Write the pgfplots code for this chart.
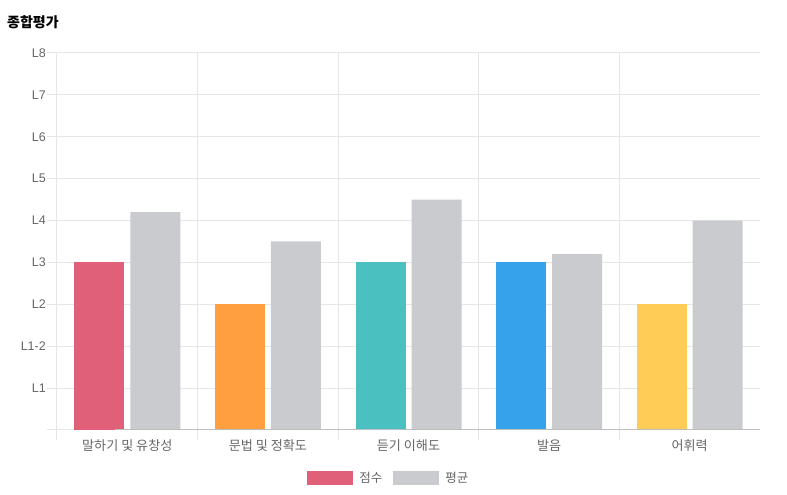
\documentclass[border=0pt]{standalone}
\usepackage{fontspec}
\setmainfont{Noto Sans CJK KR}
\newfontfamily\latinfont{Liberation Sans}
\usepackage{pgfplots}
\pgfplotsset{compat=1.18}

\definecolor{cpink}{HTML}{E0607A}
\definecolor{corange}{HTML}{FF9F40}
\definecolor{cteal}{HTML}{4BC0C0}
\definecolor{cblue}{HTML}{36A2EB}
\definecolor{cyellow}{HTML}{FFCD56}
\definecolor{cgray}{HTML}{C9CBCF}
\definecolor{gridc}{HTML}{E6E6E6}
\definecolor{axisc}{HTML}{BDBDBD}
\definecolor{textc}{HTML}{666666}

\begin{document}
\begin{tikzpicture}
\path[use as bounding box, fill=white] (0,0) rectangle (787pt,495pt);
\node[anchor=west, font=\fontsize{14pt}{16pt}\selectfont\bfseries, text=black, inner sep=0pt]
  at (7pt,473pt) {종합평가};

\begin{axis}[
    at={(57pt,65pt)}, anchor=south west,
    scale only axis,
    width=703pt, height=377pt,
    xmin=-0.5, xmax=4.5,
    ymin=0, ymax=9,
    axis line style={draw=none},
    tick align=outside,
    xtick pos=bottom, ytick pos=left,
    major tick length=10pt,
    tick style={color=gridc, line width=1pt},
    grid style={color=gridc, line width=1pt},
    xmajorgrids, ymajorgrids,
    xtick={-0.5,0.5,1.5,2.5,3.5},
    xticklabels={},
    extra x ticks={0,1,2,3,4},
    extra x tick labels={말하기 및 유창성,문법 및 정확도,듣기 이해도,발음,어휘력},
    extra x tick style={grid=none, major tick length=0pt},
    xticklabel style={font=\fontsize{13.1pt}{14pt}\selectfont, text=textc, yshift=-6pt},
    ytick={0,1,...,9},
    yticklabels={,L1,L1-2,L2,L3,L4,L5,L6,L7,L8},
    yticklabel style={font=\latinfont\fontsize{12.5pt}{14pt}\selectfont, text=textc, inner sep=1pt},
    legend columns=2,
    legend style={draw=none, fill=none, at={(0.4722,-0.1273)}, anchor=center,
        font=\fontsize{12.5pt}{14pt}\selectfont, text=textc,
        /tikz/every odd column/.append style={column sep=4pt},
        /tikz/every even column/.append style={column sep=9pt}},
]
% 점수 (one colour per category)
\addplot[ybar, bar width=50pt, bar shift=-28pt, fill=cpink, draw=none,
    legend image code/.code={\fill[cpink] (0pt,-7pt) rectangle (46pt,7pt);}]
    coordinates {(0,4)};
\addlegendentry{점수}
\addplot[ybar, bar width=50pt, bar shift=-28pt, fill=corange, draw=none, forget plot]
    coordinates {(1,3)};
\addplot[ybar, bar width=50pt, bar shift=-28pt, fill=cteal, draw=none, forget plot]
    coordinates {(2,4)};
\addplot[ybar, bar width=50pt, bar shift=-28pt, fill=cblue, draw=none, forget plot]
    coordinates {(3,4)};
\addplot[ybar, bar width=50pt, bar shift=-28pt, fill=cyellow, draw=none, forget plot]
    coordinates {(4,3)};
% 평균
\addplot[ybar, bar width=50pt, bar shift=28pt, fill=cgray, draw=none,
    legend image code/.code={\fill[cgray] (0pt,-7pt) rectangle (46pt,7pt);}]
    coordinates {(0,5.2) (1,4.5) (2,5.5) (3,4.2) (4,5.0)};
\addlegendentry{평균}
% bottom axis line
\draw[axisc, line width=1pt] (rel axis cs:0,0) ++(-12pt,0) -- (rel axis cs:1,0);
\end{axis}
\end{tikzpicture}
\end{document}
